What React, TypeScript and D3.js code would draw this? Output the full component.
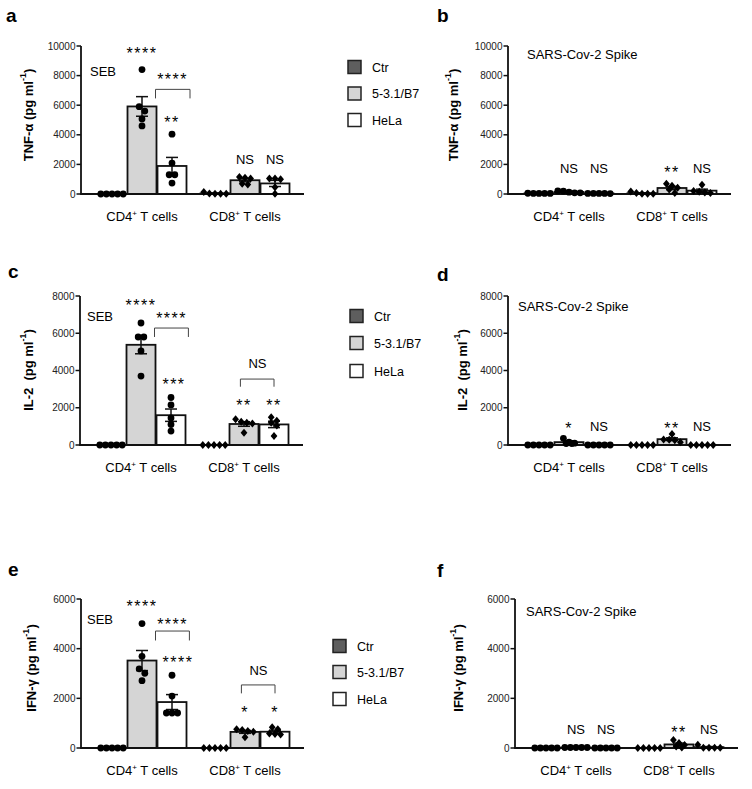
import React from "react";
import * as d3 from "d3";

const series = ["Ctr", "5-3.1/B7", "HeLa"];
const seriesFill = ["#5e5e5e", "#d5d5d5", "#ffffff"];
const cellTypes = ["CD4", "CD8"];

// values (pg/ml), per cell type: [Ctr, 5-3.1/B7, HeLa], 5 donors each
const tnfSebCD4 = [[0, 0, 0, 0, 0], [8410, 5900, 5600, 5070, 4600], [4040, 2090, 1300, 1300, 740]];
const tnfSebCD8 = [[130, 20, 10, 20, 40], [1150, 1100, 1050, 700, 650], [1050, 1050, 1000, 450, 20]];
const tnfSpikeCD4 = [[40, 40, 50, 40, 40], [200, 120, 80, 80, 210], [40, 40, 30, 40, 40]];
const tnfSpikeCD8 = [[170, 20, 10, 20, 60], [690, 560, 420, 300, 60], [620, 200, 150, 100, 60]];
const il2SebCD4 = [[0, 0, 0, 0, 0], [6550, 5800, 5800, 5050, 3700], [2550, 2150, 1450, 1100, 750]];
const il2SebCD8 = [[0, 0, 0, 0, 0], [1380, 1250, 1200, 1150, 660], [1490, 1300, 1200, 1050, 480]];
const il2SpikeCD4 = [[0, 0, 0, 0, 0], [360, 150, 100, 80, 80], [0, 0, 0, 0, 0]];
const il2SpikeCD8 = [[0, 0, 0, 0, 0], [590, 300, 280, 250, 150], [0, 0, 0, 0, 0]];
const ifnSebCD4 = [[0, 0, 0, 0, 0], [5010, 3690, 3190, 3010, 2710], [2930, 2090, 1410, 1410, 1410]];
const ifnSebCD8 = [[0, 0, 0, 0, 0], [760, 720, 680, 650, 430], [840, 760, 580, 560, 540]];
const ifnSpikeCD4 = [[0, 0, 0, 0, 0], [20, 20, 20, 20, 20], [0, 0, 0, 0, 0]];
const ifnSpikeCD8 = [[0, 0, 0, 0, 0], [320, 200, 120, 60, 20], [130, 10, 10, 10, 10]];

const tnfTicks = [0, 2000, 4000, 6000, 8000, 10000];
const il2Ticks = [0, 2000, 4000, 6000, 8000];
const ifnTicks = [0, 2000, 4000, 6000];

type Ann = { t: string; c: number; s: number; y: number };
type Br = { c: number; from: number; to: number; top: number; bottom: number };

const annA: Ann[] = [
  { t: "****", c: 0, s: 1, y: 9750 },
  { t: "****", c: 0, s: 2.02, y: 8000 },
  { t: "**", c: 0, s: 2, y: 5090 },
  { t: "NS", c: 1, s: 1, y: 2350 },
  { t: "NS", c: 1, s: 2, y: 2350 },
];
const brA: Br[] = [{ c: 0, from: 1.45, to: 2.6, top: 7070, bottom: 6460 }];
const annB: Ann[] = [
  { t: "NS", c: 0, s: 1, y: 1700 },
  { t: "NS", c: 0, s: 2, y: 1700 },
  { t: "**", c: 1, s: 1, y: 1720 },
  { t: "NS", c: 1, s: 2, y: 1700 },
];
const annC: Ann[] = [
  { t: "****", c: 0, s: 1, y: 7680 },
  { t: "****", c: 0, s: 2.02, y: 6990 },
  { t: "***", c: 0, s: 2.1, y: 3440 },
  { t: "NS", c: 1, s: 1.45, y: 4400 },
  { t: "**", c: 1, s: 1, y: 2330 },
  { t: "**", c: 1, s: 2, y: 2330 },
];
const brC: Br[] = [
  { c: 0, from: 1.45, to: 2.58, top: 6280, bottom: 5800 },
  { c: 1, from: 0.88, to: 2.0, top: 3540, bottom: 3130 },
];
const annD: Ann[] = [
  { t: "*", c: 0, s: 1, y: 1075 },
  { t: "NS", c: 0, s: 2, y: 1020 },
  { t: "**", c: 1, s: 1, y: 1075 },
  { t: "NS", c: 1, s: 2, y: 1020 },
];
const annE: Ann[] = [
  { t: "****", c: 0, s: 1, y: 5870 },
  { t: "****", c: 0, s: 2.02, y: 5120 },
  { t: "****", c: 0, s: 2.2, y: 3600 },
  { t: "NS", c: 1, s: 1.45, y: 3120 },
  { t: "*", c: 1, s: 1, y: 1590 },
  { t: "*", c: 1, s: 2, y: 1590 },
];
const brE: Br[] = [
  { c: 0, from: 1.45, to: 2.58, top: 4710, bottom: 4330 },
  { c: 1, from: 0.88, to: 2.0, top: 2540, bottom: 2200 },
];
const annF: Ann[] = [
  { t: "NS", c: 0, s: 1, y: 730 },
  { t: "NS", c: 0, s: 2, y: 730 },
  { t: "**", c: 1, s: 1, y: 760 },
  { t: "NS", c: 1, s: 2, y: 730 },
];

const FONT = "'Liberation Sans', Arial, Helvetica, sans-serif";

type PanelCfg = {
  letter: string; lx: number; ly: number;
  x0: number; yTop: number; yBottom: number;
  ticks: number[];
  title: string; tx: number; ty: number;
  note: string; nx: number; ny: number;
  data: number[][][];
  ann: Ann[]; br: Br[];
  legend?: { x: number; ys: number[] };
};

const panels: PanelCfg[] = [
  { letter: "a", lx: 6, ly: 22, x0: 81, yTop: 46, yBottom: 194, ticks: tnfTicks, title: "TNF-α (pg ml", tx: 28, ty: 115, note: "SEB", nx: 90, ny: 76, data: [tnfSebCD4, tnfSebCD8], ann: annA, br: brA, legend: { x: 348, ys: [67, 93.5, 120] } },
  { letter: "b", lx: 437, ly: 22, x0: 508, yTop: 46, yBottom: 194, ticks: tnfTicks, title: "TNF-α (pg ml", tx: 453, ty: 115, note: "SARS-Cov-2 Spike", nx: 527, ny: 59, data: [tnfSpikeCD4, tnfSpikeCD8], ann: annB, br: [] },
  { letter: "c", lx: 8, ly: 278, x0: 80, yTop: 296, yBottom: 445, ticks: il2Ticks, title: "IL-2  (pg ml", tx: 28, ty: 370, note: "SEB", nx: 87, ny: 321, data: [il2SebCD4, il2SebCD8], ann: annC, br: brC, legend: { x: 350, ys: [316, 343, 371] } },
  { letter: "d", lx: 437, ly: 281, x0: 508, yTop: 296, yBottom: 445, ticks: il2Ticks, title: "IL-2  (pg ml", tx: 462, ty: 370, note: "SARS-Cov-2 Spike", nx: 518, ny: 311, data: [il2SpikeCD4, il2SpikeCD8], ann: annD, br: [] },
  { letter: "e", lx: 8, ly: 576, x0: 81, yTop: 599, yBottom: 748, ticks: ifnTicks, title: "IFN-γ (pg ml", tx: 31, ty: 668, note: "SEB", nx: 87, ny: 624, data: [ifnSebCD4, ifnSebCD8], ann: annE, br: brE, legend: { x: 333, ys: [646, 672, 699] } },
  { letter: "f", lx: 437, ly: 577, x0: 515, yTop: 599, yBottom: 748, ticks: ifnTicks, title: "IFN-γ (pg ml", tx: 458, ty: 668, note: "SARS-Cov-2 Spike", nx: 526, ny: 616, data: [ifnSpikeCD4, ifnSpikeCD8], ann: annF, br: [] },
];

// Row-based scatter layout (points with close pixel y share a centred row)
function swarm(vals: number[], y: (v: number) => number, step: number, binH: number) {
  const order = vals.map((v, i) => ({ v, i, py: y(v) })).sort((a, b) => a.py - b.py);
  const out: { dx: number; py: number }[] = new Array(vals.length);
  let row: typeof order = [];
  const flush = () => {
    const n = row.length;
    row.forEach((p, k) => {
      out[p.i] = { dx: (k - (n - 1) / 2) * step, py: p.py };
    });
    row = [];
  };
  order.forEach((p) => {
    if (row.length && p.py - row[0].py > binH) flush();
    row.push(p);
  });
  flush();
  return out;
}

function Panel({ cfg }: { cfg: PanelCfg }) {
  const max = cfg.ticks[cfg.ticks.length - 1];
  const y = d3.scaleLinear().domain([0, max]).range([cfg.yBottom, cfg.yTop]);
  const slot = d3.scaleLinear().domain([0, 1]).range([cfg.x0 + 31, cfg.x0 + 61]);
  const groupOffset = [0, 103 / 30];
  const xPos = (c: number, s: number) => slot(groupOffset[c] + s);
  const xEnd = slot(6.4);
  const barW = 29;
  const fmt = d3.format("d");

  return (
    <g fontFamily={FONT}>
      <text x={cfg.lx} y={cfg.ly} fontSize={19} fontWeight="bold">{cfg.letter}</text>
      <line x1={cfg.x0} x2={cfg.x0} y1={y(max)} y2={y(0)} stroke="#111" strokeWidth={1.8} />
      {cfg.ticks.map((t) => (
        <g key={t}>
          <line x1={cfg.x0 - 4.5} x2={cfg.x0} y1={y(t)} y2={y(t)} stroke="#111" strokeWidth={1.5} />
          <text x={cfg.x0 - 5.5} y={y(t)} dy="0.35em" textAnchor="end" fontSize={10} fill="#222">{fmt(t)}</text>
        </g>
      ))}
      <text transform={`translate(${cfg.tx},${cfg.ty}) rotate(-90)`} textAnchor="middle" dominantBaseline="central" fontSize={13} fontWeight="bold" style={{ whiteSpace: "pre" }}>
        {cfg.title}
        <tspan fontSize={9} dy={-5}>-1</tspan>
        <tspan dy={5}>)</tspan>
      </text>
      <text x={cfg.nx} y={cfg.ny} fontSize={13}>{cfg.note}</text>
      {cfg.data.map((grp, c) =>
        grp.map((vals, s) => {
          const m = d3.mean(vals) as number;
          const cx = xPos(c, s);
          return (
            <rect key={`b${c}${s}`} x={cx - barW / 2} y={y(m)} width={barW} height={Math.max(0, y(0) - y(m))} fill={seriesFill[s]} stroke="#111" strokeWidth={1.8} />
          );
        })
      )}
      <line x1={cfg.x0 - 0.9} x2={xEnd} y1={y(0)} y2={y(0)} stroke="#111" strokeWidth={1.8} />
      {cfg.data.map((grp, c) =>
        grp.map((vals, s) => {
          const m = d3.mean(vals) as number;
          const sd = d3.deviation(vals) || 0;
          const sem = sd / Math.sqrt(vals.length);
          const cx = xPos(c, s);
          const pts = swarm(vals, y, 5.6, 5);
          const lo = Math.max(0, m - sem);
          return (
            <g key={`p${c}${s}`}>
              {sem > 0 && (
                <g stroke="#111" strokeWidth={1.5}>
                  <line x1={cx} x2={cx} y1={y(m + sem)} y2={y(lo)} />
                  <line x1={cx - 6} x2={cx + 6} y1={y(m + sem)} y2={y(m + sem)} />
                  <line x1={cx - 6} x2={cx + 6} y1={y(lo)} y2={y(lo)} />
                </g>
              )}
              {pts.map((p, i) =>
                c === 0 ? (
                  <circle key={i} cx={cx + p.dx} cy={p.py} r={3.4} fill="#000" />
                ) : (
                  <path key={i} d={`M${cx + p.dx},${p.py - 4}L${cx + p.dx + 3.4},${p.py}L${cx + p.dx},${p.py + 4}L${cx + p.dx - 3.4},${p.py}Z`} fill="#000" />
                )
              )}
            </g>
          );
        })
      )}
      {cellTypes.map((ct, c) => (
        <text key={ct} x={xPos(c, 1)} y={y(0) + 27} textAnchor="middle" fontSize={13}>
          {ct}
          <tspan fontSize={8} dy={-5}>+</tspan>
          <tspan dy={5}> T cells</tspan>
        </text>
      ))}
      {cfg.br.map((b, i) => {
        const x1 = xPos(b.c, b.from);
        const x2 = xPos(b.c, b.to);
        return (
          <path key={i} d={`M${x1},${y(b.bottom)}V${y(b.top)}H${x2}V${y(b.bottom)}`} fill="none" stroke="#444" strokeWidth={1} />
        );
      })}
      {cfg.ann.map((a, i) => {
        const star = a.t.includes("*");
        return (
          <text key={i} x={xPos(a.c, a.s)} y={y(a.y) + (star ? 9.3 : 4.6)} textAnchor="middle" fontSize={star ? 16 : 13} letterSpacing={star ? 1.5 : 0}>
            {a.t}
          </text>
        );
      })}
      {cfg.legend &&
        series.map((sname, s) => (
          <g key={sname}>
            <rect x={cfg.legend!.x} y={cfg.legend!.ys[s] - 6.5} width={13} height={13} fill={seriesFill[s]} stroke="#222" strokeWidth={1.5} />
            <text x={cfg.legend!.x + 24} y={cfg.legend!.ys[s]} dy="0.36em" fontSize={12.5}>{sname}</text>
          </g>
        ))}
    </g>
  );
}

export default function App() {
  return (
    <svg width={752} height={789} style={{ position: "absolute", left: 0, top: 0, background: "#fff" }}>
      <rect width={752} height={789} fill="#fff" />
      {panels.map((p) => (
        <Panel key={p.letter} cfg={p} />
      ))}
    </svg>
  );
}
